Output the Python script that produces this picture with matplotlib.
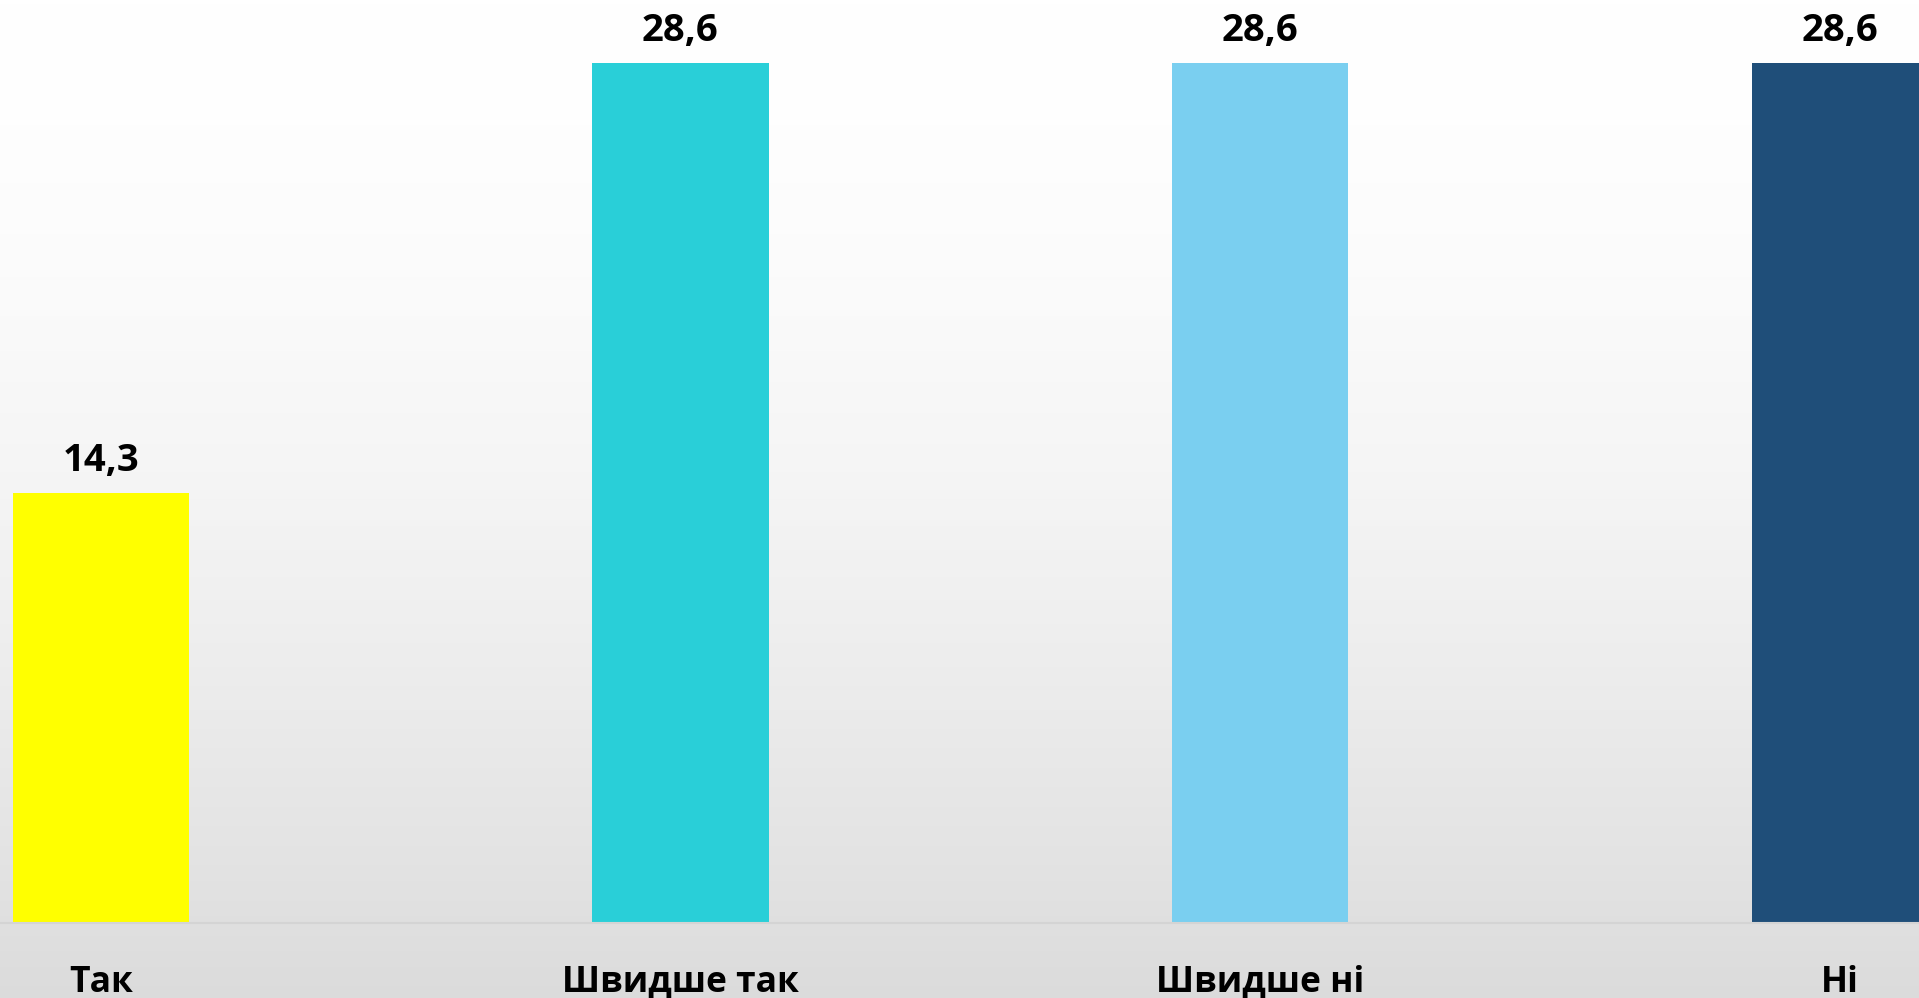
import numpy as np
import matplotlib.pyplot as plt

# data
categories = ["Так", "Швидше так", "Швидше ні", "Ні"]
values = [14.3, 28.6, 28.6, 28.6]
value_labels = ["14,3", "28,6", "28,6", "28,6"]
colors = ["#FFFF00", "#29CFD8", "#7ACFF0", "#1F4E79"]

plt.rcParams['font.family'] = ['Open Sans', 'DejaVu Sans']

fig = plt.figure(figsize=(19.19, 9.98), dpi=100)

# background gradient (white at top -> light gray at bottom)
bg = fig.add_axes([0, 0, 1, 1], zorder=0)
grad = np.linspace(0, 1, 256).reshape(-1, 1)
top = np.array([1.0, 1.0, 1.0])
bottom = np.array([0.86, 0.86, 0.86])
img = top + (bottom - top) * grad[..., None] ** 1.7
bg.imshow(img.reshape(256, 1, 3), aspect='auto', extent=[0, 1, 0, 1])
bg.axis('off')

# main axes: full width, baseline at y=923 px
ax = fig.add_axes([0, 75 / 998, 1, 923 / 998], zorder=1)
ax.patch.set_alpha(0)
x = np.arange(len(categories))
ax.bar(x, values, width=0.304, color=colors)
ax.set_xlim(-0.174, 3.137)
ax.set_ylim(0, 28.6 * 923 / 860)

for xi, v, lab in zip(x, values, value_labels):
    ax.annotate(lab, (xi, v), xytext=(0, 22), textcoords='offset pixels',
                ha='center', va='baseline', fontsize=27.5, fontweight='bold')

ax.set_xticks(x)
ax.set_xticklabels(categories, fontsize=25.5, fontweight='bold')
ax.tick_params(axis='x', length=0, pad=30)
ax.set_yticks([])
for s in ['top', 'left', 'right']:
    ax.spines[s].set_visible(False)
ax.spines['bottom'].set_color('#d4d4d4')
ax.spines['bottom'].set_linewidth(1.5)

fig.savefig("out.png", dpi=100)
